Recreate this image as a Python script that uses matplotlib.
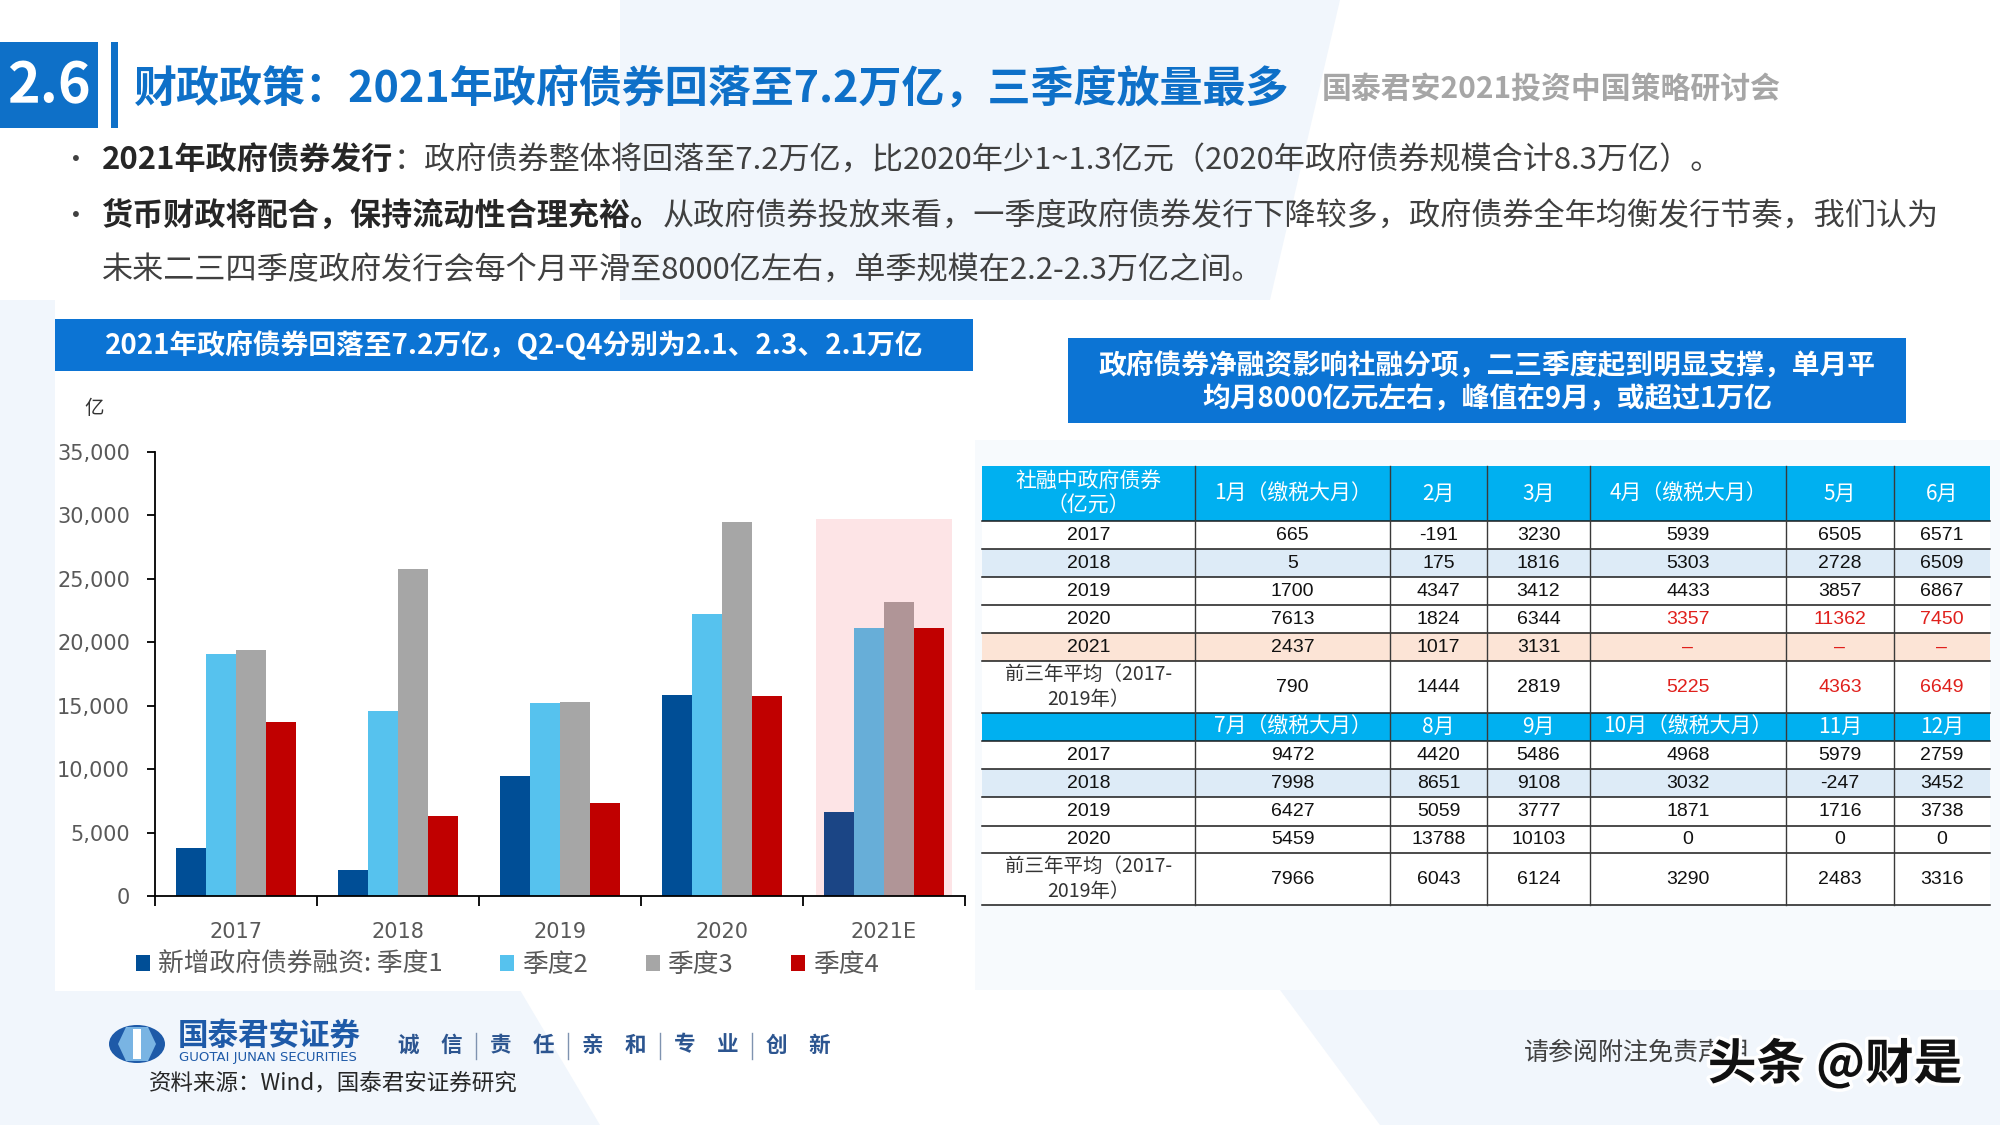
import matplotlib
matplotlib.use('Agg')
import matplotlib.pyplot as plt
import matplotlib.patheffects as pe
from matplotlib.patches import Rectangle, Polygon, Ellipse
from matplotlib import font_manager

plt.rcParams['font.family'] = ['Noto Sans CJK SC', 'DejaVu Sans']

# ---- chart data (亿元) ----
years = ['2017', '2018', '2019', '2020', '2021E']
q1 = [3760, 2050, 9480, 15840, 6600]
q2 = [19060, 14600, 15230, 22240, 21140]
q3 = [19400, 25800, 15280, 29460, 23150]
q4 = [13750, 6300, 7330, 15760, 21140]
series_names = ['新增政府债券融资: 季度1', '季度2', '季度3', '季度4']
y_ticks = [0, 5000, 10000, 15000, 20000, 25000, 30000, 35000]

# ---- table data ----
head_1 = ['社融中政府债券\n（亿元）', '1月（缴税大月）', '2月', '3月', '4月（缴税大月）', '5月', '6月']
head_2 = ['', '7月（缴税大月）', '8月', '9月', '10月（缴税大月）', '11月', '12月']
rows_1 = ['2017', '2018', '2019', '2020', '2021', '前三年平均（2017-\n2019年）']
rows_2 = ['2017', '2018', '2019', '2020', '前三年平均（2017-\n2019年）']
vals_1 = [['665', '-191', '3230', '5939', '6505', '6571'],
          ['5', '175', '1816', '5303', '2728', '6509'],
          ['1700', '4347', '3412', '4433', '3857', '6867'],
          ['7613', '1824', '6344', '3357', '11362', '7450'],
          ['2437', '1017', '3131', '–', '–', '–'],
          ['790', '1444', '2819', '5225', '4363', '6649']]
vals_2 = [['9472', '4420', '5486', '4968', '5979', '2759'],
          ['7998', '8651', '9108', '3032', '-247', '3452'],
          ['6427', '5059', '3777', '1871', '1716', '3738'],
          ['5459', '13788', '10103', '0', '0', '0'],
          ['7966', '6043', '6124', '3290', '2483', '3316']]
slogan = ['诚　信', '责　任', '亲　和', '专　业', '创　新']

names = {f.name for f in font_manager.fontManager.ttflist}
num_font = 'Liberation Sans Narrow' if 'Liberation Sans Narrow' in names else 'Liberation Sans'

fig = plt.figure(figsize=(20, 11.25), dpi=100)
fig.patch.set_facecolor('white')

# slide layer in pixel coordinates
bg = fig.add_axes([0, 0, 1, 1])
bg.set_xlim(0, 2000)
bg.set_ylim(1125, 0)
bg.axis('off')

pale = '#F1F6FC'
bg.add_patch(Polygon([(620, 0), (1340, 0), (1270, 300), (620, 300)], color=pale, lw=0))
bg.add_patch(Polygon([(0, 990), (520, 990), (600, 1125), (0, 1125)], color=pale, lw=0))
bg.add_patch(Polygon([(1280, 990), (2000, 990), (2000, 1125), (1380, 1125)], color=pale, lw=0))
bg.add_patch(Polygon([(0, 300), (55, 300), (55, 990), (0, 990)], color=pale, lw=0))
bg.add_patch(Polygon([(975, 440), (2000, 440), (2000, 990), (975, 990)], color='#F7FAFD', lw=0))
bg.add_patch(Rectangle((55, 371), 920, 620, color='white', lw=0))

# header
blue = '#0E70C8'
bg.add_patch(Rectangle((0, 42), 98, 86, color=blue, lw=0))
bg.text(49, 86, '2.6', color='white', fontsize=40, fontweight='bold', ha='center', va='center')
bg.add_patch(Rectangle((111, 42), 7, 86, color=blue, lw=0))
bg.text(134, 89, '财政政策：2021年政府债券回落至7.2万亿，三季度放量最多', color=blue,
        fontsize=31, fontweight='bold', va='center')
bg.text(1322, 89, '国泰君安2021投资中国策略研讨会', color='#A6A6A6', fontsize=21.5,
        fontweight='bold', va='center')


def rich_line(x, y, parts, size=22.4):
    t = None
    for s, w, c in parts:
        if t is None:
            t = bg.text(x, y, s, fontsize=size, fontweight=w, color=c, va='center')
        else:
            t = bg.annotate(s, xy=(1, 0), xycoords=t, fontsize=size, fontweight=w,
                            color=c, va='bottom', ha='left')


dark, reg = '#262626', '#404040'
bg.text(62, 161, '•', fontsize=20, color=reg, va='center')
bg.text(62, 217, '•', fontsize=20, color=reg, va='center')
rich_line(102, 161, [('2021年政府债券发行', 'bold', dark),
                     ('：政府债券整体将回落至7.2万亿，比2020年少1~1.3亿元（2020年政府债券规模合计8.3万亿）。', 'normal', reg)])
rich_line(102, 217, [('货币财政将配合，保持流动性合理充裕。', 'bold', dark),
                     ('从政府债券投放来看，一季度政府债券发行下降较多，政府债券全年均衡发行节奏，我们认为', 'normal', reg)])
rich_line(102, 271, [('未来二三四季度政府发行会每个月平滑至8000亿左右，单季规模在2.2-2.3万亿之间。', 'normal', reg)])

# chart title boxes
box_blue = '#0C74D4'
bg.add_patch(Rectangle((55, 319), 918, 52, color=box_blue, lw=0))
bg.text(514, 345, '2021年政府债券回落至7.2万亿，Q2-Q4分别为2.1、2.3、2.1万亿', color='white',
        fontsize=20, fontweight='bold', ha='center', va='center')
bg.add_patch(Rectangle((1068, 338), 838, 85, color=box_blue, lw=0))
bg.text(1487, 365, '政府债券净融资影响社融分项，二三季度起到明显支撑，单月平', color='white',
        fontsize=20, fontweight='bold', ha='center', va='center')
bg.text(1487, 399, '均月8000亿元左右，峰值在9月，或超过1万亿', color='white',
        fontsize=20, fontweight='bold', ha='center', va='center')
bg.text(84, 408, '亿', fontsize=14, color='#333333', va='center')

# table
col_edges = [982, 1195, 1390, 1487, 1590, 1786, 1894, 1990]
sections = [(466, 521, head_1, rows_1, vals_1, [521, 549, 577, 605, 633, 661, 713]),
            (713, 741, head_2, rows_2, vals_2, [741, 769, 797, 826, 853, 905])]
head_bg = '#00B0F0'
red = '#E0201C'
for h_top, h_bot, heads, labels, vals, edges in sections:
    bg.add_patch(Rectangle((col_edges[0], h_top), col_edges[-1] - col_edges[0], h_bot - h_top,
                           color=head_bg, lw=0))
    for j, h in enumerate(heads):
        cx = (col_edges[j] + col_edges[j + 1]) / 2
        bg.text(cx, (h_top + h_bot) / 2, h, color='white', fontsize=15, ha='center',
                va='center', linespacing=1.15)
    for i, lab in enumerate(labels):
        top, bot = edges[i], edges[i + 1]
        fill = 'white'
        if lab == '2018':
            fill = '#DDEBF7'
        elif lab == '2021':
            fill = '#FCE4D6'
        bg.add_patch(Rectangle((col_edges[0], top), col_edges[-1] - col_edges[0], bot - top,
                               color=fill, lw=0))
        cy = (top + bot) / 2
        if lab.startswith('前'):
            bg.text((col_edges[0] + col_edges[1]) / 2, cy, lab, fontsize=14, color='#333333',
                    ha='center', va='center', linespacing=1.25)
        else:
            bg.text((col_edges[0] + col_edges[1]) / 2, cy, lab, fontsize=14, color='#111111',
                    ha='center', va='center', family=num_font)
        for j, v in enumerate(vals[i]):
            cx = (col_edges[j + 1] + col_edges[j + 2]) / 2
            c = '#111111'
            if (lab == '2020' or lab.startswith('前') or lab == '2021') and j >= 3 and heads is head_1:
                c = red
            bg.text(cx, cy, v, fontsize=14, color=c, ha='center', va='center', family=num_font)
        bg.plot([col_edges[0], col_edges[-1]], [bot, bot], color='#1A1A1A', lw=1.1)
    bg.plot([col_edges[0], col_edges[-1]], [h_bot, h_bot], color='#1A1A1A', lw=1.1)
    for x in col_edges[1:-1]:
        bg.plot([x, x], [h_top, edges[-1]], color='#3A3A3A', lw=1.0)

# footer
bg.add_patch(Ellipse((137, 1044), 56, 38, color='#1E5AA8', lw=0))
bg.add_patch(Polygon([(126, 1027), (148, 1027), (156, 1044), (148, 1061), (126, 1061), (118, 1044)],
                     color='#79B4E3', lw=0))
bg.add_patch(Rectangle((133, 1029), 8, 30, color='white', lw=0))
bg.text(178, 1036, '国泰君安证券', fontsize=22, fontweight='bold', color='#1E5AA8', va='center')
bg.text(179, 1058, 'GUOTAI JUNAN SECURITIES', fontsize=9.5, color='#1E5AA8', va='center',
        family='DejaVu Sans')
for g, word in enumerate(slogan):
    gx = 430 + g * 92
    bg.text(gx, 1045, word, fontsize=15.5, fontweight='bold', color='#2C5590',
            ha='center', va='center')
    if g:
        bg.plot([gx - 46, gx - 46], [1033, 1059], color='#7F93B0', lw=1)
bg.text(149, 1083, '资料来源：Wind，国泰君安证券研究', fontsize=16.2, color='#262626', va='center')
bg.text(1524, 1053, '请参阅附注免责声明', fontsize=18, color='#404040', va='center')
bg.text(1835, 1064, '头条 @财是', fontsize=35, fontweight='bold', color='#111111', ha='center',
        va='center', path_effects=[pe.withStroke(linewidth=5, foreground='white')])

# ---- bar chart ----
ax = fig.add_axes([155 / 2000, 1 - 896 / 1125, 810 / 2000, 444 / 1125])
ax.patch.set_alpha(0)
colors = ['#004E96', '#56C2EE', '#A6A6A6', '#C00000']
colors_est = ['#1B4585', '#67AED8', '#B09597', '#C00000']
series = [q1, q2, q3, q4]
w = 0.185
x = list(range(len(years)))
ax.axvspan(len(years) - 1 - 0.42, len(years) - 1 + 0.42, ymin=0.003, ymax=29740 / 35000,
           color='#FDE4E6', lw=0, zorder=0)
for k, (vals, name) in enumerate(zip(series, series_names)):
    pos = [xi + (k - 1.5) * w for xi in x]
    cols = [colors[k]] * (len(years) - 1) + [colors_est[k]]
    bars = ax.bar(pos, vals, width=w, color=cols, lw=0, zorder=2, label=name)
    bars.patches[0].set_facecolor(colors[k])

ax.set_xlim(-0.5, len(years) - 0.5)
ax.set_ylim(0, 35000)
ax.set_yticks(y_ticks)
ax.set_yticklabels([f'{v:,}' for v in y_ticks], family='DejaVu Sans')
ax.set_xticks(x)
ax.set_xticklabels(years, family='DejaVu Sans')
ax.set_xticks([i - 0.5 for i in range(len(years) + 1)], minor=True)
ax.tick_params(axis='x', which='major', length=0, pad=19, labelsize=15, labelcolor='#595959')
ax.tick_params(axis='x', which='minor', length=7, width=1.3, direction='out')
ax.tick_params(axis='y', length=6, width=1.3, pad=12, labelsize=15, labelcolor='#595959')
for s in ['top', 'right']:
    ax.spines[s].set_visible(False)
for s in ['left', 'bottom']:
    ax.spines[s].set_linewidth(1.3)

leg = ax.legend(loc='center left', bbox_to_anchor=(136 / 2000, 1 - 965 / 1125),
                bbox_transform=fig.transFigure, ncol=4, frameon=False, fontsize=18.5,
                handlelength=0.55, handleheight=0.55, handletextpad=0.3, columnspacing=2.25,
                borderpad=0, borderaxespad=0)
for t in leg.get_texts():
    t.set_color('#595959')

fig.savefig('out.png', dpi=100, facecolor=fig.get_facecolor())
